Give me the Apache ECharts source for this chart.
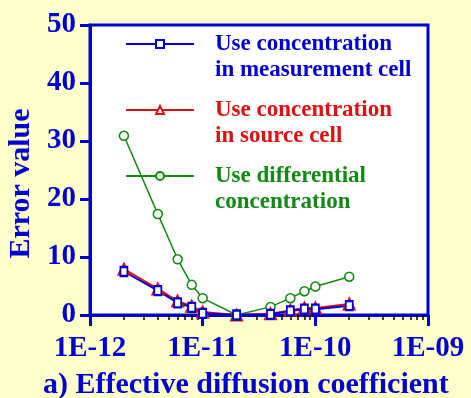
<!DOCTYPE html>
<html><head><meta charset="utf-8">
<script src="https://cdn.jsdelivr.net/npm/echarts@6/dist/echarts.min.js"></script>
<style>html,body{margin:0;padding:0;background:#FFFFCC;}#c{width:471px;height:398px;}</style>
</head><body><div id="c"></div>
<script>
const xValues = [2e-12, 4e-12, 6e-12, 8e-12, 1e-11, 2e-11, 4e-11, 6e-11, 8e-11, 1e-10, 2e-10];
const measurementCell = [7.5, 4.2, 2.1, 1.3, 0.3, 0, 0.1, 0.7, 1.0, 1.0, 1.6];
const sourceCell = [7.9, 4.5, 2.4, 1.5, 0.5, 0, 0.2, 0.8, 1.2, 1.2, 1.9];
const differential = [30.9, 17.4, 9.6, 5.2, 2.9, 0, 1.4, 2.9, 4.1, 4.9, 6.6];
const seriesNames = ['Use concentration\nin measurement cell', 'Use concentration\nin source cell', 'Use differential\nconcentration'];
const xMinorTickExponents = [];
for (let n = -12; n < -9; n++) for (let k = 2; k <= 9; k++) xMinorTickExponents.push(n + Math.log10(k));

const BLUE = '#0000D0', RED = '#E01010', GREEN = '#108A10';
const FONT = '"Liberation Serif", "Times New Roman", serif';
const pair = arr => xValues.map((x, i) => [x, arr[i]]);

const chart = echarts.init(document.getElementById('c'));
chart.setOption({
  backgroundColor: '#FFFFCC',
  animation: false,
  title: {
    text: 'a) Effective diffusion coefficient',
    left: 38, top: 365,
    textStyle: {fontFamily: FONT, fontWeight: 'bold', fontSize: 30, color: BLUE}
  },
  grid: {left: 90, right: 43, top: 25, bottom: 83, containLabel: false, outerBoundsMode: 'none',
    show: true, backgroundColor: '#fff', borderColor: BLUE, borderWidth: 3},
  legend: {
    orient: 'vertical', left: 120, top: 0,
    itemWidth: 68, itemHeight: 10, itemGap: -12,
    formatter: name => '\n' + name,
    data: [
      {name: seriesNames[0], textStyle: {color: BLUE}},
      {name: seriesNames[1], textStyle: {color: RED}},
      {name: seriesNames[2], textStyle: {color: GREEN}}
    ],
    textStyle: {fontFamily: FONT, fontWeight: 'bold', fontSize: 23, lineHeight: 26, padding: [0, 0, 0, 16]}
  },
  xAxis: [{
    type: 'log', logBase: 10, min: 1e-12, max: 1e-9, splitNumber: 3,
    axisLine: {lineStyle: {color: BLUE, width: 3}},
    axisTick: {length: 11, lineStyle: {color: BLUE, width: 3}},
    splitLine: {show: false},
    axisLabel: {
      margin: 19, color: BLUE, fontFamily: FONT, fontWeight: 'bold', fontSize: 29,
      formatter: v => { const e = Math.round(Math.log10(v)); return '1E-' + String(-e).padStart(2, '0'); }
    }
  }, {
    type: 'value', min: -12, max: -9, position: 'bottom',
    axisLine: {show: false}, splitLine: {show: false}, axisLabel: {show: false},
    axisTick: {show: true, length: 5, customValues: xMinorTickExponents, lineStyle: {color: '#000', width: 1.5}}
  }],
  yAxis: {
    type: 'value', min: 0, max: 50, interval: 10,
    name: 'Error value', nameLocation: 'middle', nameGap: 53,
    nameTextStyle: {fontFamily: FONT, fontWeight: 'bold', fontSize: 30, color: BLUE, padding: [0, 27, 0, 0]},
    axisLine: {show: true, lineStyle: {color: BLUE, width: 3}},
    axisTick: {show: true, length: 10, lineStyle: {color: BLUE, width: 3}},
    splitLine: {show: false},
    axisLabel: {margin: 14, color: BLUE, fontFamily: FONT, fontWeight: 'bold', fontSize: 29}
  },
  series: [{
    name: seriesNames[2], type: 'line', data: pair(differential),
    symbol: 'circle', symbolSize: 9, showSymbol: true,
    lineStyle: {color: GREEN, width: 1.5},
    itemStyle: {color: '#fff', borderColor: GREEN, borderWidth: 1.5}
  }, {
    name: seriesNames[1], type: 'line', data: pair(sourceCell),
    symbol: 'triangle', symbolSize: 11,
    lineStyle: {color: RED, width: 2},
    itemStyle: {color: '#fff', borderColor: RED, borderWidth: 2}
  }, {
    name: seriesNames[0], type: 'line', data: pair(measurementCell),
    symbol: 'rect', symbolSize: [7, 9],
    lineStyle: {color: BLUE, width: 2},
    itemStyle: {color: '#fff', borderColor: BLUE, borderWidth: 2}
  }]
});
</script></body></html>
